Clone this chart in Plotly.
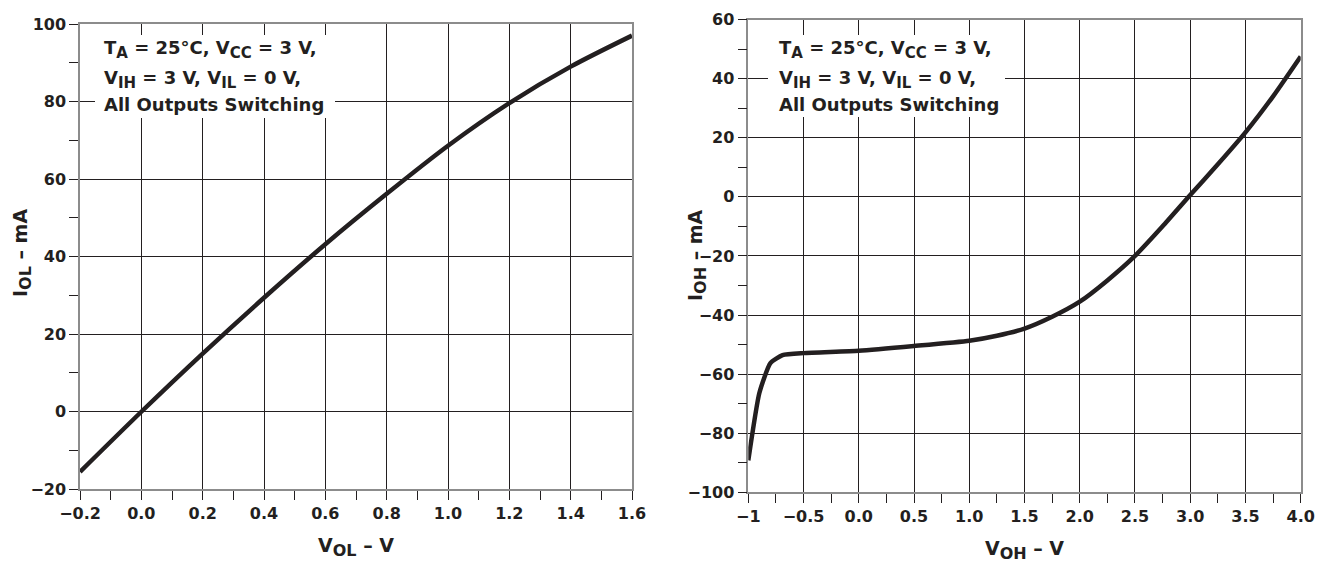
import plotly.graph_objects as go

# ---- data ----
vol = [-0.2, 0.0, 0.2, 0.4, 0.6, 0.8, 1.0, 1.2, 1.4, 1.6]
iol = [-15.5, 0.0, 15.0, 29.4, 43.2, 56.2, 68.6, 79.6, 89.0, 97.0]

voh = [-1.0, -0.9, -0.8, -0.69, -0.5, 0.0, 0.5, 1.0, 1.25, 1.5, 1.75, 2.0, 2.25,
       2.5, 2.75, 3.0, 3.25, 3.5, 3.75, 4.0]
ioh = [-89.2, -66.4, -56.3, -53.6, -52.9, -52.1, -50.5, -48.7, -47.0, -44.6, -40.6,
       -35.5, -28.3, -20.0, -10.0, 0.6, 11.0, 21.8, 34.0, 47.5]

left_x_vals = [-0.2, 0.0, 0.2, 0.4, 0.6, 0.8, 1.0, 1.2, 1.4, 1.6]
left_x_text = ["\u22120.2", "0.0", "0.2", "0.4", "0.6", "0.8", "1.0", "1.2", "1.4", "1.6"]
left_y_vals = [-20, 0, 20, 40, 60, 80, 100]
left_y_text = ["\u221220", "0", "20", "40", "60", "80", "100"]

right_x_vals = [-1.0, -0.5, 0.0, 0.5, 1.0, 1.5, 2.0, 2.5, 3.0, 3.5, 4.0]
right_x_text = ["\u22121", "\u22120.5", "0.0", "0.5", "1.0", "1.5", "2.0", "2.5", "3.0", "3.5", "4.0"]
right_y_vals = [-100, -80, -60, -40, -20, 0, 20, 40, 60]
right_y_text = ["\u2212100", "\u221280", "\u221260", "\u221240", "\u221220", "0", "20", "40", "60"]

note_lines = [
    ("T", "A", " = 25\u00b0C, V", "CC", " = 3 V,"),
    ("V", "IH", " = 3 V, V", "IL", " = 0 V,"),
    ("All Outputs Switching",),
]
left_x_title = ("V", "OL", " \u2013 V")
left_y_title = ("I", "OL", " \u2013 mA")
right_x_title = ("V", "OH", " \u2013 V")
right_y_title = ("I", "OH", " \u2013 mA")

# ---- geometry (screen pixels; the page body adds an 8px offset) ----
W, H = 1315, 560
OFF = 8


def px(x):
    return (x - OFF) / W


def py(y):
    return 1 - (y - OFF) / H


INK = "#231f20"
FRAME = "#8c8c8c"
FAM = "DejaVu Sans"
tickfont = dict(family=FAM, size=16, color=INK)
titlefont = dict(family=FAM, size=19, color=INK)
notefont = dict(family=FAM, size=18, color=INK)


def rich(parts, subsize=15):
    """alternate normal / subscript pieces, all bold"""
    out = []
    for i, p in enumerate(parts):
        if i % 2 == 1:
            out.append("<sub><span style='font-size:%dpx'>%s</span></sub>" % (subsize, p))
        else:
            out.append(p)
    return "<b>" + "".join(out) + "</b>"


def bold(lst):
    return ["<b>%s</b>" % t for t in lst]


def axis_common(**kw):
    d = dict(
        showgrid=True, gridcolor=INK, gridwidth=1,
        showline=True, linecolor=FRAME, linewidth=1.5, mirror=True,
        ticks="outside", ticklen=9, tickcolor=INK, tickwidth=1,
        zeroline=False, tickfont=tickfont, tickmode="array",
        fixedrange=True, automargin=False,
    )
    d.update(kw)
    return d


fig = go.Figure()
fig.add_trace(go.Scatter(x=vol, y=iol, mode="lines",
                         line=dict(color=INK, width=4.5, shape="spline", smoothing=0.8),
                         xaxis="x", yaxis="y", showlegend=False, hoverinfo="skip"))
fig.add_trace(go.Scatter(x=voh, y=ioh, mode="lines",
                         line=dict(color=INK, width=4.5, shape="spline", smoothing=0.5),
                         xaxis="x2", yaxis="y2", showlegend=False, hoverinfo="skip"))

fig.update_layout(
    template="none",
    width=W, height=H,
    margin=dict(l=0, r=0, t=0, b=0, autoexpand=False),
    paper_bgcolor="white", plot_bgcolor="white",
    showlegend=False,
    xaxis=axis_common(domain=[px(80), px(632)], range=[-0.2, 1.6], anchor="y",
                      tickvals=left_x_vals, ticktext=bold(left_x_text),
                      minor=dict(tick0=0, dtick=0.1, ticks="outside", ticklen=9, tickcolor=INK, showgrid=False),
                      title=dict(text=rich(left_x_title, 16), font=titlefont, standoff=16)),
    yaxis=axis_common(domain=[py(489.3), py(24)], range=[-20, 100], anchor="x",
                      tickvals=left_y_vals, ticktext=bold(left_y_text),
                      minor=dict(tick0=0, dtick=10, ticks="outside", ticklen=9, tickcolor=INK, showgrid=False)),
    xaxis2=axis_common(domain=[px(748.3), px(1300.7)], range=[-1, 4], anchor="y2",
                       tickvals=right_x_vals, ticktext=bold(right_x_text),
                       minor=dict(tick0=0, dtick=0.25, ticks="outside", ticklen=9, tickcolor=INK, showgrid=False),
                       title=dict(text=rich(right_x_title, 16), font=titlefont, standoff=16)),
    yaxis2=axis_common(domain=[py(492.3), py(19.5)], range=[-100, 60], anchor="x2",
                       tickvals=right_y_vals, ticktext=bold(right_y_text),
                       minor=dict(tick0=0, dtick=10, ticks="outside", ticklen=9, tickcolor=INK, showgrid=False)),
)

# y-axis titles placed close to the tick labels, as in the reference
for txt, xc, yc in [(left_y_title, 22, 253), (right_y_title, 697, 255)]:
    fig.add_annotation(xref="paper", yref="paper", x=px(xc), y=py(yc),
                       xanchor="center", yanchor="middle", showarrow=False,
                       textangle=-90, text=rich(txt, 16), font=titlefont)

# white note boxes that interrupt the grid
for (x0, x1, y0, y1) in [(95, 335, 35, 118), (768, 1005, 35, 117)]:
    fig.add_shape(type="rect", xref="paper", yref="paper",
                  x0=px(x0), x1=px(x1), y0=py(y1), y1=py(y0),
                  fillcolor="white", line=dict(width=0), layer="above")

for xl in (102, 777):
    for parts, yc in zip(note_lines, (50, 79.5, 104)):
        fig.add_annotation(xref="paper", yref="paper", x=px(xl), y=py(yc),
                           xanchor="left", yanchor="middle", showarrow=False,
                           text=rich(parts), font=notefont, align="left")

fig.write_html("out.html")
